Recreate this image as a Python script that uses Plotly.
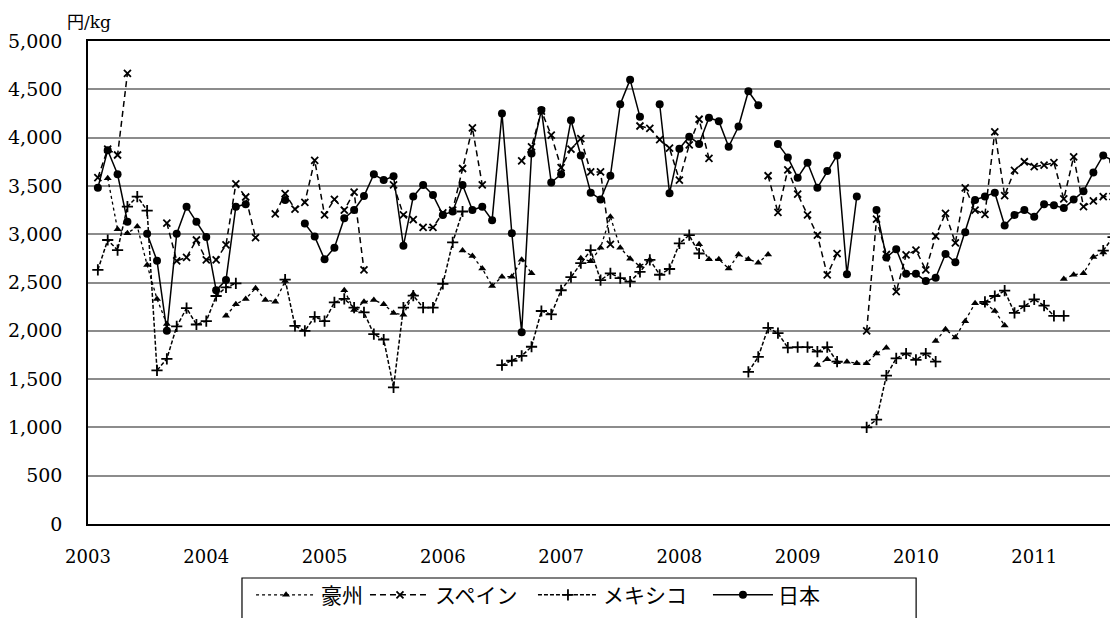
import plotly.graph_objects as go

# month index (1 = first data month), 105 months
months = list(range(1, 106))
year_labels = ["2003", "2004", "2005", "2006", "2007", "2008", "2009", "2010", "2011"]
year_month_index = [0, 12, 24, 36, 48, 60, 72, 84, 96]

japan = [3480, 3870, 3620, 3130, None, 3005, 2725, 2000, 3005, 3285, 3130, 2970,
         2420, 2525, 3285, 3310, None, None, None, 3355, None, 3110, 2975, 2740,
         2860, 3165, 3250, 3395, 3620, 3560, 3600, 2880, 3390, 3510, 3405, 3200,
         3235, 3510, 3250, 3285, 3145, 4250, 3010, 1985, 3835, 4285, 3535, 3620,
         4180, 3815, 3430, 3360, 3605, 4345, 4600, 4215, None, 4345, 3425, 3885,
         4010, 3935, 4205, 4170, 3905, 4115, 4480, 4335, None, 3935, 3795, 3585,
         3740, 3480, 3655, 3815, 2585, 3390, None, 3250, 2760, 2845, 2590, 2590,
         2515, 2550, 2795, 2710, 3020, 3355, 3390, 3430, 3090, 3200, 3250, 3180,
         3310, 3300, 3270, 3360, 3445, 3640, 3815, 3760, 3690]

spain = [3585, 3880, 3820, 4665, None, None, None, 3115, 2725, 2760, 2940, 2735,
         2735, 2890, 3520, 3385, 2965, None, 3210, 3420, 3260, 3330, 3765, 3200,
         3360, 3250, 3435, 2630, None, None, 3510, 3200, 3150, 3070, 3070, 3220,
         3250, 3680, 4100, 3510, None, None, None, 3760, 3905, 4275, 4025, 3690,
         3880, 3990, 3645, 3645, 2895, None, None, 4120, 4095, 3980, 3890, 3560,
         3925, 4190, 3785, None, None, None, None, None, 3605, 3225, 3665, 3415,
         3200, 2990, 2580, 2800, None, None, 2000, 3155, 2790, 2405, 2785, 2835,
         2630, 2980, 3215, 2910, 3480, 3250, 3205, 4060, 3400, 3660, 3750, 3700,
         3715, 3740, 3365, 3800, 3285, 3345, 3390, 3390, 3390]

mexico = [2630, 2940, 2835, 3285, 3390, 3245, 1590, 1710, 2045, 2235, 2065, 2100,
          2360, 2450, 2490, None, None, None, None, 2530, 2050, 2000, 2145, 2100,
          2295, 2330, 2240, 2190, 1965, 1910, 1415, 2240, 2365, 2240, 2240, 2485,
          2915, 3235, None, None, None, 1645, 1690, 1740, 1835, 2205, 2170, 2420,
          2555, 2700, 2835, 2525, 2595, 2545, 2510, 2610, 2735, 2580, 2640, 2905,
          2990, 2800, None, None, None, None, 1575, 1730, 2030, 1975, 1825, 1830,
          1830, 1785, 1830, 1680, None, None, 1000, 1080, 1535, 1715, 1765, 1700,
          1765, 1680, None, None, None, None, 2300, 2360, 2415, 2185, 2255, 2325,
          2260, 2155, 2155, None, None, None, 2830, 2970, 3060]

australia = [None, 3580, 3050, 3010, 3080, 2680, 2330, 2070, None, None, None, None,
             None, 2155, 2275, 2330, 2440, 2320, 2300, 2515, None, None, None, None,
             None, 2420, 2215, 2300, 2320, 2275, 2185, 2165, 2380, None, None, None,
             None, 2830, 2775, 2645, 2465, 2560, 2560, 2735, 2595, None, None, None,
             None, 2750, 2720, 2860, 3180, 2860, 2745, 2670, 2735, None, None, None,
             None, 2895, 2740, 2740, 2645, 2790, 2740, 2705, 2790, None, None, None,
             None, 1645, 1705, 1675, 1680, 1665, 1665, 1765, 1825, None, None, None,
             None, 1895, 2015, 1930, 2100, 2285, 2285, 2205, 2055, None, None, None,
             None, None, 2535, 2580, 2595, 2765, 2810, None, None]

y_ticks = [0, 500, 1000, 1500, 2000, 2500, 3000, 3500, 4000, 4500, 5000]

fig = go.Figure()
fig.add_trace(go.Scatter(
    x=months, y=australia, name="豪州", mode="lines+markers", legend="legend",
    line=dict(color="black", width=1.3, dash="dot"),
    marker=dict(symbol="triangle-up", size=7, color="black")))
fig.add_trace(go.Scatter(
    x=months, y=spain, name="スペイン", mode="lines+markers", legend="legend2",
    line=dict(color="black", width=1.5, dash="6px,4px"),
    marker=dict(symbol="x-thin", size=7, color="black",
                line=dict(color="black", width=1.8))))
fig.add_trace(go.Scatter(
    x=months, y=mexico, name="メキシコ", mode="lines+markers", legend="legend3",
    line=dict(color="black", width=1.5, dash="4px,2px"),
    marker=dict(symbol="cross-thin", size=8, color="black",
                line=dict(color="black", width=1.8))))
fig.add_trace(go.Scatter(
    x=months, y=japan, name="日本", mode="lines+markers", legend="legend4",
    line=dict(color="black", width=1.5),
    marker=dict(symbol="circle", size=8, color="black")))

serif = "DejaVu Serif"


def legend_box(xpos):
    return dict(orientation="h", x=xpos, xanchor="left", y=-0.105, yanchor="top",
                borderwidth=0, bgcolor="rgba(0,0,0,0)",
                font=dict(family="Noto Sans CJK JP", size=21), itemwidth=60)


# the page body adds an 8px offset; the figure is sized to fill the rest of the window
fig.update_layout(
    width=1110, height=610,
    margin=dict(l=80, r=0, t=33, b=94, autoexpand=False),
    paper_bgcolor="white", plot_bgcolor="white",
    font=dict(family=serif, size=19, color="black"),
    xaxis=dict(range=[0, 104.5], tickmode="array",
               tickvals=year_month_index, ticktext=year_labels,
               showgrid=False, zeroline=False, showline=True, mirror=True,
               linecolor="black", linewidth=1.5, ticks="", automargin=False,
               ticklabelstandoff=16,
               tickfont=dict(family=serif, size=18)),
    yaxis=dict(range=[0, 5000], tickmode="array", tickvals=y_ticks,
               tickformat=",", showgrid=True, gridcolor="#8c8c8c", gridwidth=1.5,
               zeroline=False, showline=True, linecolor="black", linewidth=1.5,
               ticks="", automargin=False, ticklabelstandoff=20,
               tickfont=dict(family=serif, size=19)),
    showlegend=True,
    legend=legend_box(0.1583),
    legend2=legend_box(0.2689),
    legend3=legend_box(0.4320),
    legend4=legend_box(0.6019),
    shapes=[dict(type="rect", xref="paper", yref="paper",
                 x0=0.1495, x1=0.804, y0=-0.1118, y1=-0.26,
                 line=dict(color="black", width=1.2), fillcolor="rgba(0,0,0,0)")],
    annotations=[dict(text="円/kg", xref="paper", yref="paper",
                      x=-0.0223, y=1.039, xanchor="left", yanchor="middle",
                      showarrow=False,
                      font=dict(family="DejaVu Serif, Noto Sans CJK JP", size=17))],
)

fig.write_html("out.html")
